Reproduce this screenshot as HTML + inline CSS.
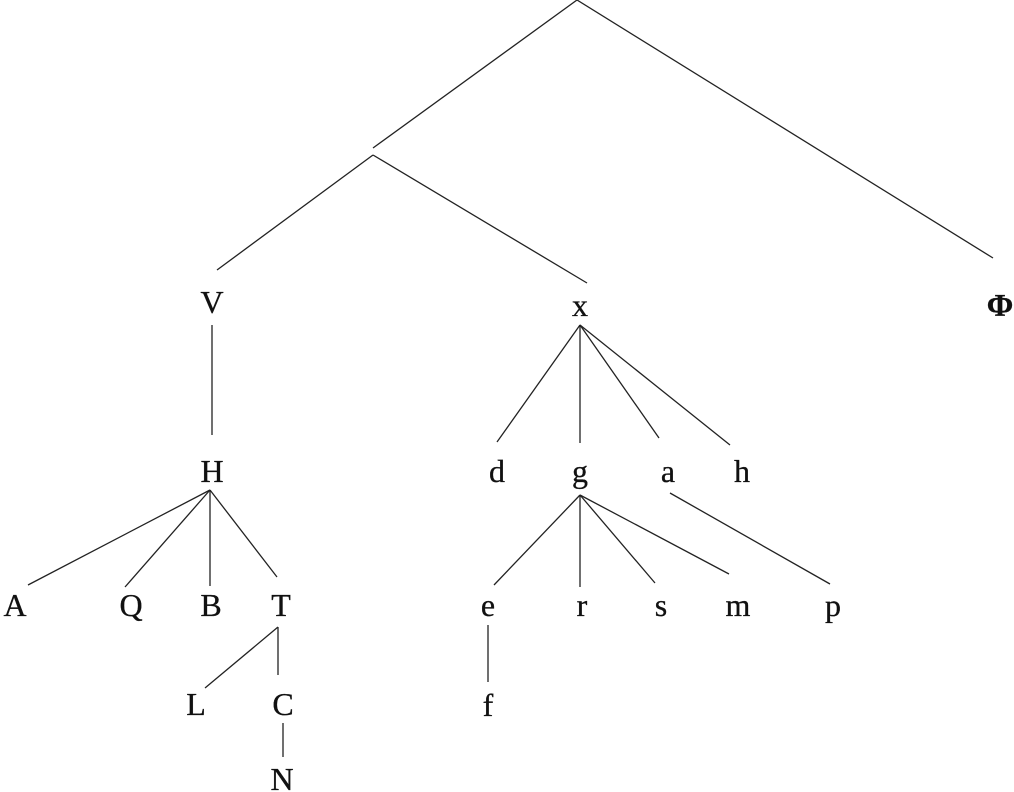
<!DOCTYPE html>
<html><head><meta charset="utf-8"><style>
html,body{margin:0;padding:0;background:#fff;}
svg{display:block;}
text{font-family:"Liberation Serif",serif;font-size:32px;fill:#111;text-anchor:middle;stroke:#111;stroke-width:0.3;}
line{stroke:#222;stroke-width:1.3;}
</style></head><body>
<svg width="1014" height="792" viewBox="0 0 1014 792">
<line x1="577" y1="0" x2="373" y2="148"/>
<line x1="577" y1="0" x2="993" y2="258"/>
<line x1="373" y1="155" x2="217" y2="270"/>
<line x1="373" y1="155" x2="587" y2="283"/>
<line x1="212" y1="325" x2="212" y2="435"/>
<line x1="210" y1="490" x2="28" y2="585"/>
<line x1="210" y1="490" x2="125" y2="587"/>
<line x1="210" y1="490" x2="210" y2="586"/>
<line x1="210" y1="490" x2="277" y2="577"/>
<line x1="278" y1="627" x2="205" y2="688"/>
<line x1="278" y1="627" x2="278" y2="675"/>
<line x1="283" y1="723" x2="283" y2="757"/>
<line x1="580" y1="325" x2="497" y2="442"/>
<line x1="580" y1="325" x2="580" y2="443"/>
<line x1="580" y1="325" x2="659" y2="438"/>
<line x1="580" y1="325" x2="730" y2="445"/>
<line x1="580" y1="495" x2="494" y2="585"/>
<line x1="580" y1="495" x2="580" y2="587"/>
<line x1="580" y1="495" x2="655" y2="583"/>
<line x1="580" y1="495" x2="729" y2="574"/>
<line x1="670" y1="493" x2="830" y2="584"/>
<line x1="488" y1="625" x2="488" y2="682"/>
<text x="212" y="313">V</text>
<text x="580" y="316">x</text>
<text x="1000" y="316" font-weight="bold">Φ</text>
<text x="212" y="482">H</text>
<text x="497" y="482">d</text>
<text x="580" y="482">g</text>
<text x="668" y="482">a</text>
<text x="742" y="482">h</text>
<text x="15" y="616">A</text>
<text x="131" y="616">Q</text>
<text x="211" y="616">B</text>
<text x="281" y="616">T</text>
<text x="488" y="616">e</text>
<text x="582" y="616">r</text>
<text x="661" y="616">s</text>
<text x="738" y="616">m</text>
<text x="833" y="616">p</text>
<text x="196" y="715">L</text>
<text x="283" y="715">C</text>
<text x="488" y="716">f</text>
<text x="282" y="790">N</text>
</svg>
</body></html>
